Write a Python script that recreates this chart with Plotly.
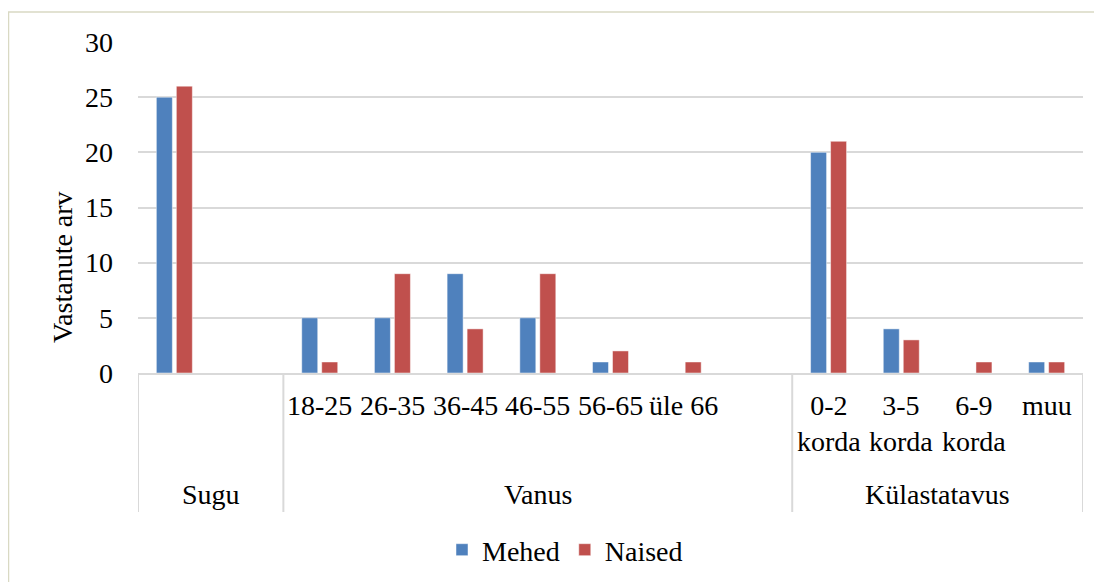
import plotly.graph_objects as go

# ---- data ----
groups = ["Sugu", "Vanus", "Külastatavus"]
group_sizes = [2, 7, 4]
categories = ["", "",
              "18-25", "26-35", "36-45", "46-55", "56-65", "üle 66", "",
              "0-2<br>korda", "3-5<br>korda", "6-9<br>korda", "muu"]
mehed = [25, None, 5, 5, 9, 5, 1, 0, None, 20, 4, 0, 1]
naised = [26, None, 1, 9, 4, 9, 2, 1, None, 21, 3, 1, 1]
series_names = ["Mehed", "Naised"]
colors = ["#4F81BD", "#C0504D"]
y_ticks = [0, 5, 10, 15, 20, 25, 30]
y_title = "Vastanute arv"

OFF = 8  # page body margin
W, H = 1102 - OFF, 582 - OFF
L, R, T, B = 138 - OFF, 1083 - OFF, 42 - OFF, 373 - OFF
FONT = "Liberation Serif, Times New Roman, serif"
FS = 28

def px_x(p):
    return (p - OFF - L) / (R - L)

def px_y(p):
    return (B - (p - OFF)) / (B - T)

xs = list(range(len(categories)))
fig = go.Figure()
for name, vals, col in zip(series_names, [mehed, naised], colors):
    fig.add_trace(go.Bar(
        x=xs, y=vals, name=name,
        marker=dict(color=col, line=dict(color="rgba(255,255,255,0.6)", width=0.8)),
    ))

shapes = []
annotations = []
# outer chart border
shapes.append(dict(type="rect", xref="paper", yref="paper",
                   x0=px_x(8.5), x1=px_x(1100.5), y0=px_y(600), y1=px_y(12),
                   line=dict(color="#D9D9C3", width=1.5), fillcolor="rgba(0,0,0,0)", layer="below"))

# group dividers + labels
start = 0
bounds = [-0.5]
for g, n in zip(groups, group_sizes):
    end = start + n
    bounds.append(end - 0.5)
    annotations.append(dict(x=(start + end - 1) / 2, xref="x", y=px_y(494), yref="paper",
                            text=g, showarrow=False, yanchor="middle", xanchor="center",
                            font=dict(family=FONT, size=FS, color="#000")))
    start = end
for b in bounds:
    shapes.append(dict(type="line", xref="x", yref="paper", x0=b, x1=b,
                       y0=px_y(373), y1=px_y(512),
                       line=dict(color="#D9D9D9", width=2)))

# category labels
for i, c in enumerate(categories):
    if c:
        annotations.append(dict(x=i, xref="x", y=px_y(388), yref="paper",
                                text=c, showarrow=False, yanchor="top", xanchor="center",
                                font=dict(family=FONT, size=FS, color="#000")))

# y title
annotations.append(dict(x=px_x(62), xref="paper", y=px_y(267), yref="paper",
                        text=y_title, textangle=-90, showarrow=False,
                        xanchor="center", yanchor="middle",
                        font=dict(family=FONT, size=FS, color="#000")))

fig.update_layout(
    width=W, height=H,
    margin=dict(l=L, r=W - R, t=T, b=H - B, autoexpand=False),
    paper_bgcolor="white", plot_bgcolor="white",
    barmode="group", bargap=0.45, bargroupgap=0.2,
    font=dict(family=FONT, size=FS, color="#000"),
    xaxis=dict(range=[-0.5, len(categories) - 0.5], showticklabels=False,
               showgrid=False, zeroline=False, showline=True,
               linecolor="#D9D9D9", linewidth=2, ticks=""),
    yaxis=dict(range=[0, 30], tickvals=y_ticks, showgrid=True,
               gridcolor="#D9D9D9", gridwidth=1.5, zeroline=False,
               showline=False, ticks="", ticklabelstandoff=24,
               automargin=False,
               tickfont=dict(family=FONT, size=FS, color="#000")),
    legend=dict(orientation="h", x=px_x(565), xanchor="center",
                y=px_y(550), yanchor="middle",
                font=dict(family=FONT, size=FS, color="#000"),
                itemwidth=30, bgcolor="rgba(0,0,0,0)"),
    shapes=shapes, annotations=annotations,
    showlegend=True,
)

fig.write_html("out.html")
